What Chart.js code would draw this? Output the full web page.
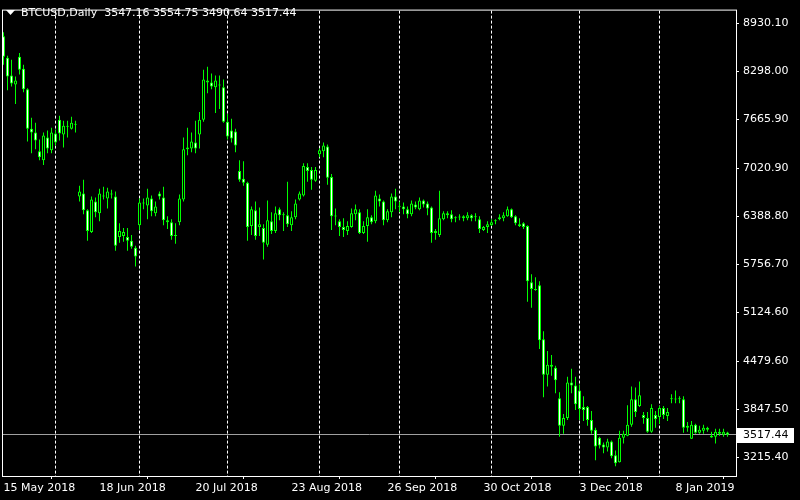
<!DOCTYPE html>
<html>
<head>
<meta charset="utf-8">
<script src="https://cdn.jsdelivr.net/npm/chart.js@4.4.1/dist/chart.umd.min.js"></script>
<style>
  html, body { margin: 0; background: #000; }
  canvas { display: block; }
</style>
</head>
<body>
<canvas id="chart" width="800" height="500"></canvas>
<script>
const symbol = "BTCUSD,Daily";
const firstDay = "2018-05-15";
const holidays = ["2018-12-25", "2019-01-01"];

const open = [
  8762, 8477, 8244, 8127, 8490, 8334, 8062, 7544, 7493, 7247,
  7130, 7428, 7260, 7480, 7661, 7467, 7570, 7544, 7609, 6651,
  6690, 6470, 6184, 6586, 6431, 6664, 6625, 6690, 6651, 6120,
  6133, 6120, 6068, 5977, 6275, 6573, 6534, 6625, 6431, 6690,
  6638, 6340, 6314, 6133, 6314, 6612, 7272, 7285, 7363, 7467,
  7661, 8179, 8153, 8088, 8127, 8088, 7635, 7519, 7506, 6988,
  6884, 6832, 6262, 6470, 6250, 6236, 6016, 6327, 6198, 6483,
  6405, 6405, 6275, 6379, 6612, 6664, 7039, 7001, 6858, 7208,
  7247, 7311, 6910, 6392, 6327, 6250, 6198, 6250, 6418, 6444,
  6171, 6262, 6379, 6327, 6625, 6586, 6340, 6444, 6651, 6521,
  6521, 6483, 6418, 6547, 6483, 6599, 6560, 6508, 6171, 6146,
  6353, 6431, 6418, 6366, 6379, 6366, 6366, 6405, 6379, 6353,
  6211, 6250, 6275, 6327, 6353, 6366, 6392, 6483, 6392, 6288,
  6301, 6262, 5524, 5434, 5485, 4773, 4307, 4436, 4398, 3996,
  3634, 3737, 4203, 4165, 4100, 3880, 3880, 3711, 3582, 3478,
  3388, 3349, 3427, 3245, 3155, 3478, 3504, 3647, 3983, 3893,
  3776, 3737, 3556, 3776, 3750, 3867, 3763, 3983, 3983, 3983,
  3983, 3608, 3465, 3647, 3543, 3569, 3582, 3504, 3491, 3556,
  3517, 3547.16
];
const high = [
  8814, 8503, 8451, 8231, 8542, 8386, 8075, 7687, 7622, 7402,
  7493, 7519, 7557, 7532, 7713, 7648, 7648, 7700, 7648, 6793,
  6871, 6483, 6651, 6638, 6755, 6781, 6768, 6742, 6716, 6301,
  6236, 6236, 6146, 6003, 6625, 6625, 6755, 6664, 6586, 6716,
  6781, 6392, 6353, 6301, 6677, 7428, 7557, 7493, 7648, 7765,
  8321, 8360, 8270, 8244, 8244, 8192, 7739, 7674, 7544, 7130,
  7117, 6845, 6521, 6586, 6508, 6288, 6599, 6444, 6521, 6508,
  6444, 6845, 6457, 6612, 6716, 7091, 7091, 7039, 7039, 7285,
  7363, 7337, 6949, 6495, 6353, 6366, 6327, 6495, 6547, 6483,
  6327, 6483, 6405, 6729, 6677, 6599, 6483, 6690, 6755, 6586,
  6573, 6521, 6599, 6586, 6638, 6612, 6586, 6521, 6224, 6729,
  6457, 6457, 6470, 6392, 6418, 6405, 6444, 6418, 6431, 6392,
  6262, 6327, 6353, 6353, 6418, 6444, 6521, 6495, 6405, 6366,
  6314, 6275, 5628, 5589, 5537, 4877, 4618, 4566, 4424, 4074,
  3789, 4281, 4385, 4281, 4178, 4022, 3893, 3828, 3608, 3490,
  3414, 3465, 3440, 3310, 3569, 3569, 3906, 4152, 4139, 4216,
  3815, 3815, 3919, 3828, 3893, 3893, 3867, 4048, 4100, 4022,
  4022, 3685, 3698, 3660, 3634, 3647, 3621, 3556, 3595, 3595,
  3595, 3554.75
];
const low = [
  8386, 8050, 8101, 7868, 8257, 8024, 7376, 7221, 7272, 7130,
  7065, 7221, 7221, 7324, 7389, 7298, 7428, 7532, 7493, 6586,
  6418, 6068, 6171, 6379, 6327, 6612, 6495, 6625, 5939, 6042,
  6055, 5939, 5965, 5731, 6211, 6483, 6353, 6392, 6392, 6612,
  6275, 6224, 6081, 6029, 6275, 6586, 7195, 7233, 7221, 7285,
  7635, 8011, 8062, 7752, 7804, 7622, 7402, 7363, 7233, 6845,
  6793, 6068, 6146, 6081, 6133, 5822, 5990, 6159, 6171, 6340,
  6198, 6250, 6198, 6353, 6599, 6651, 6845, 6742, 6845, 7169,
  7169, 6806, 6211, 6275, 6133, 6120, 6146, 6240, 6340, 6159,
  6159, 6055, 6288, 6300, 6521, 6275, 6314, 6379, 6483, 6444,
  6418, 6366, 6392, 6483, 6470, 6508, 6405, 6042, 6081, 6120,
  6340, 6366, 6314, 6314, 6340, 6327, 6340, 6327, 6327, 6171,
  6198, 6171, 6262, 6288, 6340, 6327, 6385, 6370, 6275, 6250,
  6224, 5265, 5188, 5410, 4644, 4009, 4152, 4294, 4061, 3491,
  3530, 3711, 4061, 3841, 3711, 3698, 3634, 3530, 3180, 3336,
  3271, 3297, 3206, 3103, 3150, 3401, 3495, 3621, 3750, 3880,
  3660, 3543, 3543, 3608, 3660, 3724, 3698, 3931, 3931, 3931,
  3543, 3556, 3460, 3530, 3530, 3530, 3556, 3478, 3401, 3504,
  3491, 3490.64
];
const close = [
  8490, 8231, 8140, 8179, 8321, 8062, 7544, 7493, 7389, 7169,
  7454, 7285, 7493, 7363, 7480, 7583, 7583, 7622, 7596, 6716,
  6470, 6198, 6612, 6444, 6690, 6651, 6716, 6677, 6003, 6198,
  6184, 6068, 5990, 5861, 6573, 6560, 6638, 6457, 6521, 6651,
  6340, 6314, 6133, 6146, 6625, 7272, 7298, 7376, 7285, 7661,
  8192, 8153, 8101, 8179, 8114, 7635, 7441, 7415, 7324, 6871,
  6832, 6250, 6483, 6133, 6288, 6042, 6340, 6198, 6431, 6405,
  6418, 6288, 6379, 6560, 6690, 7052, 6988, 6871, 7001, 7260,
  7324, 6897, 6392, 6390, 6250, 6211, 6262, 6431, 6483, 6171,
  6262, 6379, 6314, 6664, 6586, 6340, 6457, 6651, 6586, 6518,
  6483, 6418, 6560, 6508, 6599, 6547, 6495, 6171, 6198, 6366,
  6431, 6405, 6353, 6364, 6377, 6392, 6405, 6366, 6381, 6224,
  6250, 6288, 6314, 6325, 6379, 6405, 6483, 6379, 6301, 6262,
  6250, 5537, 5434, 5421, 4760, 4307, 4436, 4411, 4234, 3634,
  3737, 4203, 4165, 3918, 3854, 3841, 3711, 3569, 3362, 3375,
  3349, 3427, 3232, 3142, 3478, 3530, 3647, 3983, 3815, 4035,
  3737, 3556, 3867, 3724, 3867, 3776, 3815, 3985, 3981, 3985,
  3608, 3634, 3647, 3543, 3582, 3608, 3608, 3480, 3556, 3530,
  3556, 3517.44
];

const priceTicks = [8930.1, 8298.0, 7665.9, 7020.9, 6388.8, 5756.7, 5124.6, 4479.6, 3847.5, 3215.4];
const tickLabels = ["15 May 2018", "18 Jun 2018", "20 Jul 2018", "23 Aug 2018", "26 Sep 2018", "30 Oct 2018", "3 Dec 2018", "8 Jan 2019"];
const barsPerLabel = 24;

const LIME = "#00ff00";

// trading days: weekdays only, minus the two holidays
const dates = [];
for (let d = new Date(firstDay + "T00:00:00Z"); dates.length < close.length; d.setUTCDate(d.getUTCDate() + 1)) {
  const iso = d.toISOString().slice(0, 10);
  const day = d.getUTCDay();
  if (day === 0 || day === 6 || holidays.includes(iso)) {
    continue;
  }
  dates.push(iso);
}

const monthStarts = [];
for (let i = 1; i < dates.length; i++) {
  if (dates[i].slice(0, 7) !== dates[i - 1].slice(0, 7)) {
    monthStarts.push(i);
  }
}

const tickBars = tickLabels.map((_, k) => k * barsPerLabel);
const last = close.length - 1;

const bodies = open.map((o, i) => ({ x: i, y: [o, close[i]] }));
const wicks = high.map((h, i) => ({ x: i, y: [low[i], h] }));
const bodyFill = open.map((o, i) => (close[i] < o ? "#ffffff" : "#000000"));

const terminalPlugin = {
  id: "terminal",
  beforeDatasetsDraw(chart) {
    const { ctx, chartArea } = chart;
    const xScale = chart.scales.x;
    const yScale = chart.scales.y;
    ctx.save();
    ctx.strokeStyle = "#ffffff";
    ctx.lineWidth = 1;
    ctx.setLineDash([3, 2]);
    monthStarts.forEach((i) => {
      const px = Math.floor(xScale.getPixelForValue(i)) + 0.5;
      ctx.beginPath();
      ctx.moveTo(px, chartArea.top);
      ctx.lineTo(px, chartArea.bottom);
      ctx.stroke();
    });
    ctx.setLineDash([]);

    const py = Math.round(yScale.getPixelForValue(close[last])) - 0.5;
    ctx.strokeStyle = "#a0a0a0";
    ctx.beginPath();
    ctx.moveTo(chartArea.left, py);
    ctx.lineTo(chartArea.right, py);
    ctx.stroke();
    ctx.restore();
  },
  afterDraw(chart) {
    const { ctx, chartArea } = chart;
    const yScale = chart.scales.y;
    ctx.save();
    ctx.strokeStyle = "#ffffff";
    ctx.lineWidth = 1;
    ctx.strokeRect(chartArea.left - 0.5, chartArea.top - 0.5,
      chartArea.right - chartArea.left + 1, chartArea.bottom - chartArea.top + 1);

    // header
    ctx.fillStyle = "#ffffff";
    ctx.beginPath();
    ctx.moveTo(6, 10);
    ctx.lineTo(15, 10);
    ctx.lineTo(10.5, 15);
    ctx.closePath();
    ctx.fill();
    ctx.font = "11px 'DejaVu Sans'";
    ctx.textBaseline = "alphabetic";
    ctx.textAlign = "left";
    const ohlc = [open[last], high[last], low[last], close[last]].map((v) => v.toFixed(2)).join(" ");
    ctx.fillText(`${symbol}  ${ohlc}`, 21, 16);

    // current price marker
    const py = Math.round(yScale.getPixelForValue(close[last])) - 0.5;
    ctx.fillStyle = "#ffffff";
    ctx.fillRect(chartArea.right + 1, Math.round(py - 7), 57, 15);
    ctx.fillStyle = "#000000";
    ctx.textBaseline = "middle";
    ctx.fillText(close[last].toFixed(2), chartArea.right + 7, py + 1);
    ctx.restore();
  },
};

Chart.defaults.font.family = "'DejaVu Sans'";
Chart.defaults.font.size = 11;

new Chart(document.getElementById("chart"), {
  type: "bar",
  data: {
    datasets: [
      {
        label: "body",
        data: bodies,
        backgroundColor: bodyFill,
        borderColor: LIME,
        borderWidth: 1,
        borderSkipped: false,
        barThickness: 3,
        minBarLength: 1,
        inflateAmount: 0,
        grouped: false,
        order: 0,
      },
      {
        label: "wick",
        data: wicks,
        backgroundColor: LIME,
        borderWidth: 0,
        barThickness: 1,
        minBarLength: 1,
        inflateAmount: 0,
        grouped: false,
        order: 1,
      },
    ],
  },
  options: {
    responsive: false,
    animation: false,
    devicePixelRatio: 1,
    layout: { padding: { left: 3, top: 3, right: 0, bottom: 0 } },
    plugins: {
      legend: { display: false },
      tooltip: { enabled: false },
    },
    scales: {
      x: {
        type: "linear",
        min: -0.125,
        max: 183.125,
        offset: false,
        afterFit: (scale) => {
          scale.height = 24;
        },
        afterBuildTicks: (scale) => {
          scale.ticks = tickBars.map((value) => ({ value }));
        },
        ticks: {
          color: "#ffffff",
          align: "start",
          maxRotation: 0,
          autoSkip: false,
          padding: 3,
          callback: (value, index) => tickLabels[index],
        },
        grid: { drawOnChartArea: false, tickLength: 3, color: "#ffffff" },
        border: { color: "#ffffff" },
      },
      y: {
        position: "right",
        min: 2973.2,
        max: 9098.45,
        afterFit: (scale) => {
          scale.width = 64;
        },
        afterBuildTicks: (scale) => {
          scale.ticks = priceTicks.map((value) => ({ value }));
        },
        ticks: {
          color: "#ffffff",
          padding: 4,
          callback: (value) => Number(value).toFixed(2),
        },
        grid: { drawOnChartArea: false, tickLength: 3, color: "#ffffff" },
        border: { color: "#ffffff" },
      },
    },
  },
  plugins: [terminalPlugin],
});
</script>
</body>
</html>
